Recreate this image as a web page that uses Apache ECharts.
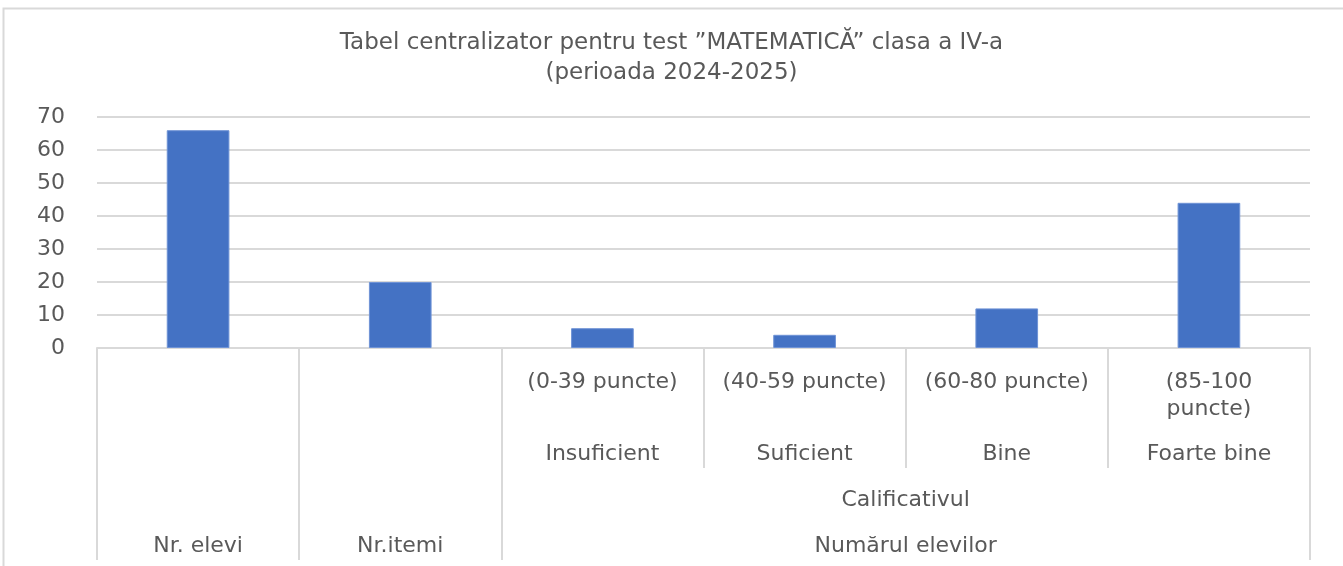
<!DOCTYPE html>
<html>
<head>
    <meta charset="utf-8">
    <title>Tabel centralizator</title>
    <script src="https://cdn.jsdelivr.net/npm/echarts@6/dist/echarts.min.js"></script>
    <style>
        html, body { margin: 0; padding: 0; background: #fff; }
        #chart { width: 1343px; height: 566px; }
    </style>
</head>
<body>
<div id="chart"></div>
<script type="text/javascript">
    // date
    var categories = ['Nr. elevi', 'Nr.itemi', 'Insuficient', 'Suficient', 'Bine', 'Foarte bine'];
    var values = [66, 20, 6, 4, 12, 44];
    // randuri de etichete ale axei (de sus in jos)
    var rangeLabels = ['', '', '(0-39 puncte)', '(40-59 puncte)', '(60-80 puncte)', '(85-100\npuncte)'];
    var nameLabels = ['', '', 'Insuficient', 'Suficient', 'Bine', 'Foarte bine'];
    var groupLabel = 'Calificativul';
    var groupSpan = [2, 6];
    var topLabels = ['Nr. elevi', 'Nr.itemi', 'Numărul elevilor'];
    var topSpans = [[0, 1], [1, 2], [2, 6]];
    var yTicks = [0, 10, 20, 30, 40, 50, 60, 70];

    var txt = '#595959';
    var line = '#d9d9d9';
    var font = 'DejaVu Sans';

    function mid(s) { return (s[0] + s[1]) / 2; }
    var topMids = topSpans.map(mid);
    var topEdges = [0, 1, 2, 6];

    var myChart = echarts.init(document.getElementById('chart'));
    myChart.setOption({
        animation: false,
        title: {
            text: 'Tabel centralizator pentru test ”MATEMATICĂ” clasa a IV-a\n(perioada 2024-2025)',
            left: 'center',
            top: 23,
            textStyle: {color: txt, fontFamily: font, fontSize: 23, fontWeight: 'normal', lineHeight: 30}
        },
        graphic: [{
            type: 'rect',
            shape: {x: 3.5, y: 8.5, width: 1400, height: 600},
            style: {fill: null, stroke: line, lineWidth: 2},
            silent: true
        }],
        grid: {left: 97, right: 33, top: 117, bottom: 218},
        xAxis: [{
            type: 'category',
            position: 'bottom',
            data: categories,
            axisLine: {lineStyle: {color: line, width: 2}},
            axisTick: {show: true, interval: 0, length: 120, lineStyle: {color: line, width: 2}},
            axisLabel: {
                interval: 0, margin: 21, color: txt, fontFamily: font, fontSize: 22, lineHeight: 27,
                formatter: function (v, i) { return rangeLabels[i]; }
            }
        }, {
            type: 'category',
            position: 'bottom',
            data: categories,
            axisLine: {show: false},
            axisTick: {show: false},
            axisLabel: {
                interval: 0, margin: 93, color: txt, fontFamily: font, fontSize: 22, lineHeight: 27,
                formatter: function (v, i) { return nameLabels[i]; }
            }
        }, {
            type: 'value',
            position: 'bottom',
            min: 0, max: 6,
            splitLine: {show: false},
            axisLine: {show: false},
            axisTick: {show: false},
            axisLabel: {
                margin: 139, color: txt, fontFamily: font, fontSize: 22, lineHeight: 27,
                customValues: [mid(groupSpan)],
                formatter: function () { return groupLabel; }
            }
        }, {
            type: 'value',
            position: 'bottom',
            min: 0, max: 6,
            splitLine: {show: false},
            axisLine: {show: false},
            axisTick: {show: true, length: 212, customValues: topEdges, lineStyle: {color: line, width: 2}},
            axisLabel: {
                margin: 185, color: txt, fontFamily: font, fontSize: 22, lineHeight: 27,
                customValues: topMids,
                formatter: function (v) { return topLabels[topMids.indexOf(v)]; }
            }
        }],
        yAxis: {
            type: 'value',
            min: yTicks[0],
            max: yTicks[yTicks.length - 1],
            interval: 10,
            axisLine: {show: false},
            axisTick: {show: false},
            axisLabel: {color: txt, fontFamily: font, fontSize: 22, margin: 32},
            splitLine: {lineStyle: {color: line, width: 2}}
        },
        series: [{
            type: 'bar',
            xAxisIndex: 0,
            data: values,
            barWidth: '31%',
            itemStyle: {color: '#4472c4', borderColor: '#6f93d6', borderWidth: 1}
        }]
    });
</script>
</body>
</html>
